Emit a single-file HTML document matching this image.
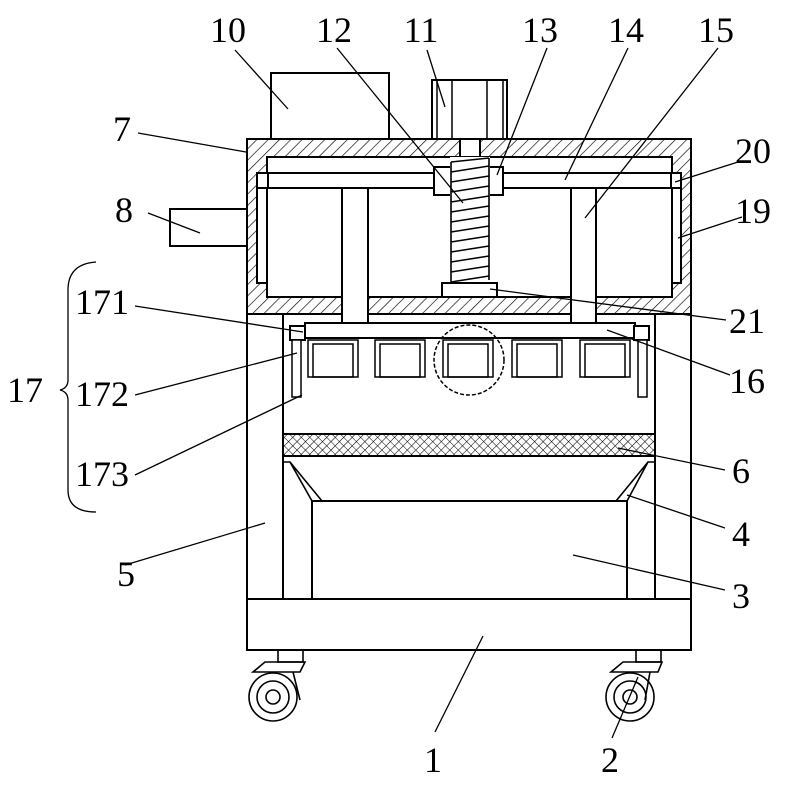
<!DOCTYPE html>
<html><head><meta charset="utf-8"><style>html,body{margin:0;padding:0;background:#fff}svg{display:block}</style></head><body>
<svg width="799" height="788" viewBox="0 0 799 788" xmlns="http://www.w3.org/2000/svg">
<defs>
<pattern id="h" patternUnits="userSpaceOnUse" width="8" height="8" patternTransform="rotate(45)"><rect width="8" height="8" fill="#fff"/><line x1="0" y1="0" x2="0" y2="8" stroke="#000" stroke-width="1.3"/></pattern>
<pattern id="m" patternUnits="userSpaceOnUse" width="6" height="6" patternTransform="rotate(45)"><rect width="6" height="6" fill="#fff"/><path d="M0 0V6M0 0H6" stroke="#000" stroke-width="1.1"/></pattern>
</defs>
<g fill="none" stroke="#000" stroke-width="2">
<!-- motors -->
<rect x="271" y="73" width="118" height="66" fill="#fff"/>
<rect x="432" y="80" width="75" height="59" fill="#fff"/>
<path d="M437 80V139M452 80V139M487 80V139M503 80V139" stroke-width="1.5"/>
<rect x="170" y="209" width="77" height="37" fill="#fff"/>
<!-- upper hatched box -->
<rect x="247" y="139" width="444" height="175" fill="url(#h)"/>
<rect x="267" y="157" width="405" height="140" fill="#fff"/>
<rect x="460" y="139" width="20" height="18" fill="#fff"/>
<rect x="342" y="297" width="26" height="26" fill="#fff" stroke="none"/>
<rect x="571" y="297" width="25" height="26" fill="#fff" stroke="none"/>
<rect x="257" y="173" width="10" height="110" fill="#fff"/>
<rect x="672" y="173" width="9" height="110" fill="#fff"/>
<rect x="267" y="173" width="405" height="15" fill="#fff"/>
<rect x="257" y="173" width="11" height="15" fill="#fff"/>
<rect x="671" y="173" width="10" height="15" fill="#fff"/>
<rect x="342" y="188" width="26" height="135" fill="#fff"/>
<rect x="571" y="188" width="25" height="135" fill="#fff"/>
<rect x="434" y="167" width="69" height="28" fill="#fff"/>
<rect x="450" y="157" width="40" height="126" fill="#fff" stroke="none"/>
<path d="M451 162L489 158M451 172L489 166M451 182L489 176M451 192L489 186M451 202L489 196M451 212L489 206M451 222L489 216M451 232L489 226M451 242L489 236M451 252L489 246M451 262L489 256M451 272L489 266M451 282L489 276M451 162V282M489 158V280" stroke-width="1.6"/>
<rect x="442" y="283" width="55" height="14" fill="#fff"/>
<!-- lower frame -->
<path d="M247 314V599M691 314V599M283 314V599M655 314V599"/>
<rect x="305" y="323" width="330" height="15" fill="#fff"/>
<rect x="290" y="326" width="15" height="14" fill="#fff"/>
<rect x="634" y="326" width="15" height="14" fill="#fff"/>
<rect x="292" y="340" width="9" height="57" fill="#fff" stroke-width="1.5"/>
<rect x="638" y="340" width="9" height="57" fill="#fff" stroke-width="1.5"/>
<g stroke-width="1.5">
<rect x="308" y="340" width="50" height="37"/><rect x="313" y="344" width="40" height="33"/>
<rect x="375" y="340" width="50" height="37"/><rect x="380" y="344" width="40" height="33"/>
<rect x="443" y="340" width="50" height="37"/><rect x="448" y="344" width="40" height="33"/>
<rect x="512" y="340" width="50" height="37"/><rect x="517" y="344" width="40" height="33"/>
<rect x="580" y="340" width="50" height="37"/><rect x="585" y="344" width="40" height="33"/>
</g>
<circle cx="469" cy="360" r="35" stroke-width="1.5" stroke-dasharray="4 2"/>
<rect x="283" y="434" width="372" height="22" fill="url(#m)"/>
<path d="M283 462L290 462L322 501M655 462L648 462L616 501M290 462L312 501M648 462L627 501" stroke-width="1.6"/>
<rect x="312" y="501" width="315" height="98" fill="#fff"/>
<rect x="247" y="599" width="444" height="51" fill="#fff"/>
<!-- casters -->
<g stroke-width="1.6">
<rect x="278" y="650" width="25" height="12"/><path d="M253 672L265 662H305L300 672H255Z"/><path d="M293 672L300 700"/>
<circle cx="273" cy="697" r="24"/><circle cx="273" cy="697" r="16"/><circle cx="273" cy="697" r="7"/>
<rect x="636" y="650" width="25" height="12"/><path d="M611 672L623 662H662L658 672H613Z"/><path d="M650 672L645 700"/>
<circle cx="630" cy="697" r="24"/><circle cx="630" cy="697" r="16"/><circle cx="630" cy="697" r="7"/>
</g>
<!-- leaders -->
<g stroke-width="1.3">
<path d="M235 50L288 109M337 48L463 203M427 50L445 107M547 48L497 175M628 48L565 180M718 48L585 218M138 133L246 152M148 213L200 233M738 162L675 182M742 217L678 238M726 320L490 289M135 306L303 332M730 375L607 330M135 395L297 353M135 475L302 395M725 470L618 448M725 528L627 495M125 565L265 523M725 590L573 555M435 732L483 636M612 738L638 677"/>
<path d="M96 262Q68 264 68 290V380Q68 388 60 390Q68 392 68 400V490Q68 512 96 512"/>
</g>
</g>
<g font-family="Liberation Serif, serif" font-size="36" fill="#000" text-anchor="middle">
<text x="228" y="42">10</text><text x="334" y="42">12</text><text x="421" y="42">11</text><text x="540" y="42">13</text><text x="626" y="42">14</text><text x="716" y="42">15</text>
<text x="122" y="141">7</text><text x="124" y="222">8</text><text x="753" y="163">20</text><text x="753" y="223">19</text>
<text x="102" y="314">171</text><text x="747" y="333">21</text><text x="25" y="402">17</text><text x="102" y="406">172</text><text x="747" y="393">16</text>
<text x="102" y="486">173</text><text x="741" y="483">6</text><text x="741" y="546">4</text><text x="126" y="586">5</text><text x="741" y="608">3</text>
<text x="433" y="772">1</text><text x="610" y="772">2</text>
</g>
</svg>
</body></html>
